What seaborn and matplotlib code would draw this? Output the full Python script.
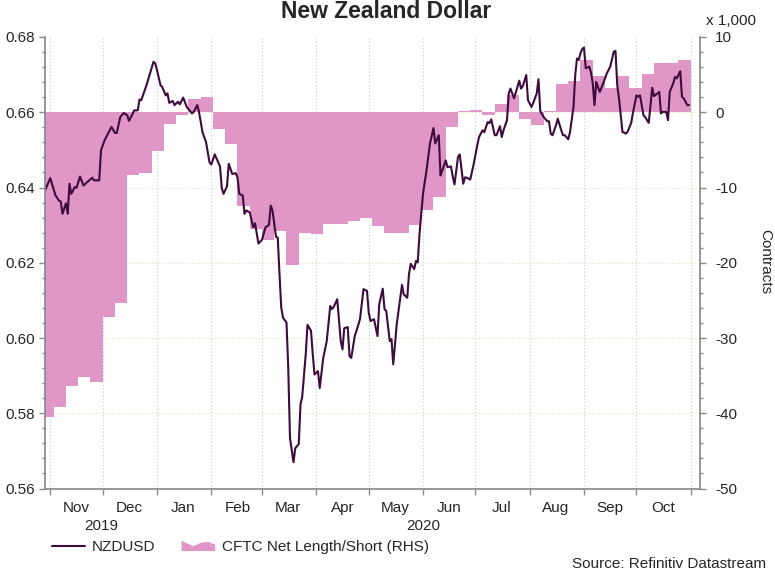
import pandas as pd
import seaborn as sns
import matplotlib.pyplot as plt
import matplotlib.dates as mdates
import matplotlib.transforms as mtransforms
from matplotlib.ticker import MultipleLocator, FormatStrFormatter
from matplotlib.patches import Patch, Polygon
from matplotlib.lines import Line2D
from matplotlib.legend_handler import HandlerPatch

# NZDUSD spot
nzd_dates = [
    '2019-10-29',
    '2019-11-01', '2019-11-04', '2019-11-06', '2019-11-07', '2019-11-08', '2019-11-10', '2019-11-11', '2019-11-12', '2019-11-13', '2019-11-15', '2019-11-16', '2019-11-18', '2019-11-20', '2019-11-22', '2019-11-25', '2019-11-26', '2019-11-29', '2019-11-30',
    '2019-12-02', '2019-12-04', '2019-12-06', '2019-12-08', '2019-12-09', '2019-12-11', '2019-12-13', '2019-12-15', '2019-12-16', '2019-12-18', '2019-12-19', '2019-12-21', '2019-12-22', '2019-12-23', '2019-12-26', '2019-12-28', '2019-12-30', '2019-12-31',
    '2020-01-01', '2020-01-03', '2020-01-04', '2020-01-06', '2020-01-07', '2020-01-08', '2020-01-10', '2020-01-11', '2020-01-13', '2020-01-14', '2020-01-16', '2020-01-18', '2020-01-21', '2020-01-22', '2020-01-24', '2020-01-25', '2020-01-27', '2020-01-29', '2020-01-31',
    '2020-02-01', '2020-02-03', '2020-02-06', '2020-02-07', '2020-02-08', '2020-02-10', '2020-02-11', '2020-02-13', '2020-02-15', '2020-02-16', '2020-02-17', '2020-02-19', '2020-02-20', '2020-02-21', '2020-02-23', '2020-02-25', '2020-02-26', '2020-02-28',
    '2020-03-01', '2020-03-03', '2020-03-05', '2020-03-06', '2020-03-07', '2020-03-09', '2020-03-10', '2020-03-11', '2020-03-12', '2020-03-13', '2020-03-15', '2020-03-16', '2020-03-17', '2020-03-19', '2020-03-20', '2020-03-22', '2020-03-23', '2020-03-24', '2020-03-26', '2020-03-27', '2020-03-29', '2020-03-30', '2020-03-31',
    '2020-04-02', '2020-04-03', '2020-04-05', '2020-04-07', '2020-04-09', '2020-04-10', '2020-04-11', '2020-04-13', '2020-04-15', '2020-04-16', '2020-04-17', '2020-04-19', '2020-04-20', '2020-04-21', '2020-04-23', '2020-04-24', '2020-04-26', '2020-04-28', '2020-04-30',
    '2020-05-01', '2020-05-02', '2020-05-04', '2020-05-06', '2020-05-07', '2020-05-09', '2020-05-10', '2020-05-11', '2020-05-13', '2020-05-14', '2020-05-15', '2020-05-17', '2020-05-18', '2020-05-20', '2020-05-21', '2020-05-23', '2020-05-24', '2020-05-25', '2020-05-27', '2020-05-28', '2020-05-29', '2020-05-30',
    '2020-06-01', '2020-06-03', '2020-06-05', '2020-06-07', '2020-06-08', '2020-06-10', '2020-06-11', '2020-06-12', '2020-06-14', '2020-06-15', '2020-06-17', '2020-06-18', '2020-06-19', '2020-06-21', '2020-06-22', '2020-06-24', '2020-06-25', '2020-06-26', '2020-06-28', '2020-06-30',
    '2020-07-02', '2020-07-03', '2020-07-05', '2020-07-06', '2020-07-08', '2020-07-09', '2020-07-10', '2020-07-12', '2020-07-13', '2020-07-15', '2020-07-16', '2020-07-17', '2020-07-19', '2020-07-20', '2020-07-21', '2020-07-23', '2020-07-24', '2020-07-26', '2020-07-27', '2020-07-28', '2020-07-30', '2020-07-31',
    '2020-08-02', '2020-08-03', '2020-08-05', '2020-08-06', '2020-08-07', '2020-08-09', '2020-08-11', '2020-08-12', '2020-08-13', '2020-08-14', '2020-08-16', '2020-08-17', '2020-08-19', '2020-08-20', '2020-08-21', '2020-08-23', '2020-08-24', '2020-08-26', '2020-08-27', '2020-08-28', '2020-08-29', '2020-08-30', '2020-08-31',
    '2020-09-01', '2020-09-02', '2020-09-04', '2020-09-05', '2020-09-06', '2020-09-07', '2020-09-08', '2020-09-09', '2020-09-10', '2020-09-12', '2020-09-14', '2020-09-16', '2020-09-17', '2020-09-18', '2020-09-19', '2020-09-20', '2020-09-21', '2020-09-23', '2020-09-24', '2020-09-25', '2020-09-26', '2020-09-28', '2020-09-29',
    '2020-10-01', '2020-10-02', '2020-10-03', '2020-10-05', '2020-10-06', '2020-10-07', '2020-10-08', '2020-10-10', '2020-10-11', '2020-10-13', '2020-10-14', '2020-10-15', '2020-10-16', '2020-10-18', '2020-10-19', '2020-10-20', '2020-10-22', '2020-10-23', '2020-10-24', '2020-10-26', '2020-10-27', '2020-10-28', '2020-10-30', '2020-10-31',
]
nzd_values = [
    0.6392,
    0.6425, 0.6379, 0.6365, 0.6363, 0.6330, 0.6358, 0.6330, 0.6410, 0.6383, 0.6401, 0.6399, 0.6429, 0.6405, 0.6414, 0.6426, 0.6419, 0.6419, 0.6499,
    0.6525, 0.6543, 0.6561, 0.6545, 0.6545, 0.6587, 0.6598, 0.6592, 0.6577, 0.6595, 0.6605, 0.6605, 0.6634, 0.6632, 0.6672, 0.6703, 0.6734, 0.6730,
    0.6712, 0.6672, 0.6667, 0.6645, 0.6650, 0.6625, 0.6630, 0.6619, 0.6628, 0.6621, 0.6639, 0.6614, 0.6597, 0.6601, 0.6619, 0.6601, 0.6547, 0.6521, 0.6467,
    0.6461, 0.6488, 0.6456, 0.6399, 0.6383, 0.6403, 0.6463, 0.6436, 0.6438, 0.6427, 0.6383, 0.6379, 0.6330, 0.6339, 0.6334, 0.6294, 0.6305, 0.6251,
    0.6261, 0.6294, 0.6301, 0.6352, 0.6339, 0.6269, 0.6267, 0.6170, 0.6081, 0.6054, 0.6041, 0.5921, 0.5734, 0.5670, 0.5707, 0.5718, 0.5823, 0.5845, 0.5957, 0.6035, 0.6019, 0.5957, 0.5903,
    0.5912, 0.5867, 0.5947, 0.5992, 0.6085, 0.6077, 0.6083, 0.6103, 0.5992, 0.5970, 0.6026, 0.6029, 0.5952, 0.5947, 0.6005, 0.6019, 0.6050, 0.6130, 0.6125,
    0.6067, 0.6045, 0.6050, 0.6005, 0.6090, 0.6131, 0.6077, 0.6072, 0.5992, 0.5997, 0.5930, 0.6037, 0.6072, 0.6141, 0.6116, 0.6107, 0.6170, 0.6197, 0.6183, 0.6205, 0.6201, 0.6276,
    0.6383, 0.6445, 0.6517, 0.6558, 0.6517, 0.6539, 0.6432, 0.6445, 0.6472, 0.6454, 0.6456, 0.6429, 0.6408, 0.6481, 0.6488, 0.6410, 0.6427, 0.6426, 0.6421, 0.6463,
    0.6512, 0.6534, 0.6552, 0.6547, 0.6574, 0.6571, 0.6581, 0.6539, 0.6539, 0.6563, 0.6534, 0.6552, 0.6579, 0.6650, 0.6663, 0.6637, 0.6652, 0.6684, 0.6663, 0.6669, 0.6699, 0.6632,
    0.6614, 0.6625, 0.6650, 0.6688, 0.6603, 0.6587, 0.6576, 0.6576, 0.6543, 0.6539, 0.6565, 0.6583, 0.6552, 0.6539, 0.6539, 0.6528, 0.6547, 0.6614, 0.6699, 0.6743, 0.6739, 0.6757, 0.6768,
    0.6772, 0.6717, 0.6721, 0.6706, 0.6677, 0.6619, 0.6681, 0.6667, 0.6654, 0.6677, 0.6703, 0.6721, 0.6741, 0.6761, 0.6763, 0.6672, 0.6637, 0.6547, 0.6546, 0.6543, 0.6549, 0.6572, 0.6599,
    0.6645, 0.6641, 0.6645, 0.6592, 0.6587, 0.6579, 0.6572, 0.6665, 0.6643, 0.6650, 0.6654, 0.6597, 0.6601, 0.6601, 0.6579, 0.6654, 0.6677, 0.6694, 0.6690, 0.6709, 0.6641, 0.6637, 0.6619, 0.6619,
]

# CFTC net positioning, thousands of contracts, weekly steps
cftc_first_date = '2019-10-29'
cftc_weekly_start = '2019-11-03'
cftc_end_date = '2020-11-01'
cftc_values = [
    -40.5,
    -39.2, -36.4, -35.2, -35.9, -27.2, -25.4, -8.3, -8.1, -5.1, -1.5,
    -0.4, 1.8, 2.0, -2.2, -4.2, -12.4, -15.5, -17.0, -15.8, -20.3,
    -16.1, -16.2, -14.8, -14.8, -14.4, -14.0, -15.1, -16.0, -16.0, -15.0,
    -13.0, -11.3, -1.9, 0.1, 0.35, -0.3, 1.1, 2.3, -0.85, -1.7,
    0.1, 3.7, 4.1, 6.9, 4.8, 3.2, 4.8, 3.2, 5.1, 6.5, 6.5, 6.9,
]

month_labels = ['Nov', 'Dec', 'Jan', 'Feb', 'Mar', 'Apr', 'May', 'Jun',
                'Jul', 'Aug', 'Sep', 'Oct']
year_labels = ['2019', '2020']

LINE_COLOR = '#3d0b3d'
FILL_COLOR = '#e096c6'
AXIS_COLOR = '#8a8a8a'

sns.set_theme(style='white')
plt.rcParams['font.family'] = ['Liberation Sans', 'DejaVu Sans']

nzd = pd.DataFrame({'date': pd.to_datetime(nzd_dates), 'NZDUSD': nzd_values})

cftc_dates = ([pd.Timestamp(cftc_first_date)]
              + list(pd.date_range(cftc_weekly_start,
                                   periods=len(cftc_values) - 1, freq='7D'))
              + [pd.Timestamp(cftc_end_date)])
cftc = pd.DataFrame({'date': cftc_dates,
                     'net': cftc_values + [cftc_values[-1]]})

fig = plt.figure(figsize=(7.75, 5.73), dpi=100)
ax = fig.add_axes([45 / 775, 1 - 488.5 / 573, 655 / 775, 451.5 / 573])
ax2 = ax.twinx()
ax.set_zorder(ax2.get_zorder() + 1)
ax.patch.set_visible(False)

x0 = pd.Timestamp('2019-10-29')
x1 = pd.Timestamp('2020-11-06 07:00')

# grid under the filled area
month_starts = pd.date_range('2019-11-01', '2020-11-01', freq='MS')
for d in month_starts:
    ax2.axvline(d, color='#b9d2c6', lw=0.8, ls=(0, (1, 2)), zorder=0)
for v in [-40, -30, -20, -10, 0]:
    ax2.axhline(v, color='#e8dfb2', lw=0.8, ls=(0, (1, 2)), zorder=0)

ax2.fill_between(cftc['date'], 0, cftc['net'], step='post',
                 color=FILL_COLOR, lw=0, zorder=1)

sns.lineplot(data=nzd, x='date', y='NZDUSD', ax=ax, color=LINE_COLOR,
             lw=1.5, legend=False)

ax.set_xlim(x0, x1)
ax.set_ylim(0.56, 0.68)
ax2.set_ylim(-50, 10)
ax.set_xlabel('')
ax.set_ylabel('')

ax.yaxis.set_major_locator(MultipleLocator(0.02))
ax.yaxis.set_minor_locator(MultipleLocator(0.004))
ax.yaxis.set_major_formatter(FormatStrFormatter('%.2f'))
ax2.yaxis.set_major_locator(MultipleLocator(10))
ax2.yaxis.set_minor_locator(MultipleLocator(2))
ax2.yaxis.set_major_formatter(FormatStrFormatter('%d'))

ax.xaxis.set_major_locator(mdates.MonthLocator())
ax.xaxis.set_major_formatter(plt.NullFormatter())
ax.xaxis.set_minor_locator(mdates.MonthLocator(bymonthday=16))
ax.xaxis.set_minor_formatter(mdates.DateFormatter('%b'))

ax.tick_params(axis='y', which='major', direction='out', length=4, width=1,
               color=AXIS_COLOR, labelsize=11, pad=3, left=True)
ax.tick_params(axis='y', which='minor', direction='out', length=2.5,
               width=1, color=AXIS_COLOR, left=True)
ax.tick_params(axis='x', which='major', direction='out', length=4.5,
               width=1, color=AXIS_COLOR, bottom=True)
ax.tick_params(axis='x', which='minor', length=0, labelsize=11, pad=9)
ax2.tick_params(axis='y', which='major', direction='out', length=4,
                width=1, color=AXIS_COLOR, labelsize=11, pad=7, right=True)
ax2.tick_params(axis='y', which='minor', direction='out', length=2.5,
                width=1, color=AXIS_COLOR, right=True)

for s in ['top', 'right']:
    ax.spines[s].set_visible(False)
for s in ['left', 'bottom']:
    ax.spines[s].set_color(AXIS_COLOR)
for s in ['top', 'left', 'bottom']:
    ax2.spines[s].set_visible(False)
ax2.spines['right'].set_color(AXIS_COLOR)

# year labels under the months
trans = mtransforms.blended_transform_factory(ax.transData, ax.transAxes)
ax.text(pd.Timestamp('2019-11-30'), -0.084, year_labels[0], transform=trans,
        ha='center', va='center', fontsize=11)
ax.text(pd.Timestamp('2020-06-01'), -0.084, year_labels[1], transform=trans,
        ha='center', va='center', fontsize=11)

fig.text(0.4987, 1 - 12 / 573, 'New Zealand Dollar', ha='center',
         va='center', fontsize=16.5, fontweight='bold')
fig.text(706 / 775, 1 - 21 / 573, 'x 1,000', ha='left', va='center',
         fontsize=11)
fig.text(765 / 775, 1 - 262 / 573, 'Contracts', ha='center', va='center',
         rotation=270, fontsize=11)
fig.text(766 / 775, 1.5 / 573, 'Source: Refinitiv Datastream',
         ha='right', va='bottom', fontsize=11)


def area_glyph(legend, orig_handle, xdescent, ydescent, width, height,
               fontsize):
    pts = [(0, 0), (0, 0.95 * height), (0.35 * width, 0.45 * height),
           (0.6 * width, 0.8 * height), (0.8 * width, 0.85 * height),
           (width, 0.6 * height), (width, 0)]
    return Polygon([(px - xdescent, py - ydescent) for px, py in pts],
                   closed=True)


handles = [Line2D([], [], color=LINE_COLOR, lw=1.5),
           Patch(facecolor=FILL_COLOR, edgecolor='none')]
fig.legend(handles, ['NZDUSD', 'CFTC Net Length/Short (RHS)'],
           loc='center left', bbox_to_anchor=(44 / 775, 1 - 547 / 573),
           ncol=2, frameon=False, fontsize=11, handlelength=2.2,
           handletextpad=0.45, columnspacing=1.7, borderpad=0,
           handler_map={Patch: HandlerPatch(patch_func=area_glyph)})

fig.savefig('out.png', dpi=100)
